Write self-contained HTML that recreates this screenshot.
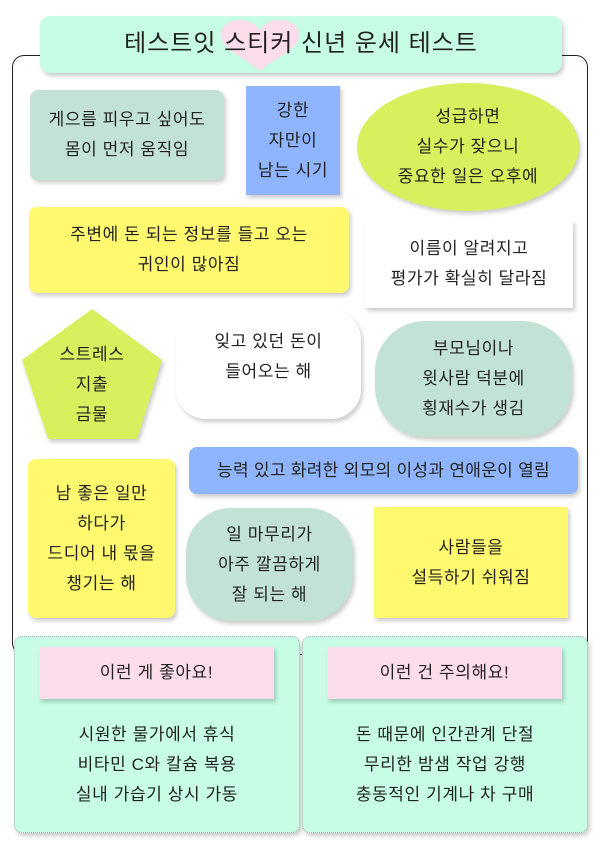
<!DOCTYPE html>
<html><head><meta charset="utf-8"><style>
*{margin:0;padding:0;box-sizing:border-box}
body{width:600px;height:845px;background:#fff;position:relative;overflow:hidden;font-family:"Liberation Sans","Noto Sans CJK KR","NanumGothic",sans-serif;color:#222}
.a{position:absolute;display:flex;flex-direction:column;align-items:center;justify-content:center;text-align:center;font-size:17px;line-height:30px;letter-spacing:0.6px;white-space:nowrap}
.sh{box-shadow:2px 3px 4px rgba(0,0,0,0.2)}
</style></head><body>
<div style="position:absolute;left:12px;top:55px;width:576px;height:600px;border:1.3px solid #222;border-radius:12px"></div>
<div class="a sh" style="left:40px;top:16px;width:522px;height:57px;background:#c6fde4;border-radius:10px"></div>
<svg style="position:absolute;left:221px;top:20px" width="78" height="52" viewBox="0 0 78 52"><path d="M39 51 C25 38 0 30 0 15 C0 5 9 0 19 0 C29 0 36 5 39 10 C42 5 49 0 59 0 C69 0 78 5 78 15 C78 30 53 38 39 51Z" fill="#fddcec"/></svg>
<div class="a" style="left:40px;top:16px;width:522px;height:55px;font-size:24px;letter-spacing:1px">테스트잇 스티커 신년 운세 테스트</div>

<div class="a sh" style="left:30px;top:90px;width:194px;height:90px;background:#c2e2d6;border-radius:8px">게으름 피우고 싶어도<br>몸이 먼저 움직임</div>
<div class="a sh" style="left:246px;top:86px;width:94px;height:109px;background:#8fb5fe">강한<br>자만이<br>남는 시기</div>
<div class="a sh" style="left:357px;top:83px;width:222px;height:128px;background:#d8ef5e;border-radius:50%">성급하면<br>실수가 잦으니<br>중요한 일은 오후에</div>
<div class="a sh" style="left:29px;top:207px;width:320px;height:86px;background:#fff96f;border-radius:8px">주변에 돈 되는 정보를 들고 오는<br>귀인이 많아짐</div>
<div class="a sh" style="left:365px;top:220px;width:208px;height:88px;background:#fff">이름이 알려지고<br>평가가 확실히 달라짐</div>

<svg style="position:absolute;left:0;top:0;filter:drop-shadow(2px 3px 2px rgba(0,0,0,0.2))" width="200" height="460"><polygon points="92,309 162,360 137,439 48,439 22,360" fill="#d8ef5e"/></svg>
<div class="a" style="left:42px;top:340px;width:100px;height:90px">스트레스<br>지출<br>금물</div>
<div class="a sh" style="left:176px;top:310px;width:185px;height:109px;background:#fff;border-radius:30px;padding-bottom:15px">잊고 있던 돈이<br>들어오는 해</div>
<div class="a sh" style="left:375px;top:321px;width:197px;height:116px;background:#c2e2d6;border-radius:50px">부모님이나<br>윗사람 덕분에<br>횡재수가 생김</div>
<div class="a sh" style="left:189px;top:447px;width:389px;height:47px;background:#8fb5fe;border-radius:8px;letter-spacing:0.3px">능력 있고 화려한 외모의 이성과 연애운이 열림</div>
<div class="a sh" style="left:28px;top:459px;width:147px;height:159px;background:#fff96f;border-radius:8px">남 좋은 일만<br>하다가<br>드디어 내 몫을<br>챙기는 해</div>
<div class="a sh" style="left:186px;top:508px;width:167px;height:113px;background:#c2e2d6;border-radius:45px">일 마무리가<br>아주 깔끔하게<br>잘 되는 해</div>
<div class="a sh" style="left:374px;top:507px;width:194px;height:111px;background:#fff96f">사람들을<br>설득하기 쉬워짐</div>

<div class="a sh" style="left:14px;top:636px;width:286px;height:197px;background:#c6fde4;border:1px dotted #aaa;border-radius:8px"></div>
<div class="a sh" style="left:302px;top:636px;width:286px;height:197px;background:#c6fde4;border:1px dotted #aaa;border-radius:8px"></div>
<div class="a sh" style="left:39px;top:647px;width:235px;height:52px;background:#fddcec">이런 게 좋아요!</div>
<div class="a sh" style="left:327px;top:647px;width:235px;height:52px;background:#fddcec">이런 건 주의해요!</div>
<div class="a" style="left:14px;top:720px;width:286px;height:90px">시원한 물가에서 휴식<br>비타민 C와 칼슘 복용<br>실내 가습기 상시 가동</div>
<div class="a" style="left:302px;top:720px;width:286px;height:90px">돈 때문에 인간관계 단절<br>무리한 밤샘 작업 강행<br>충동적인 기계나 차 구매</div>
</body></html>
